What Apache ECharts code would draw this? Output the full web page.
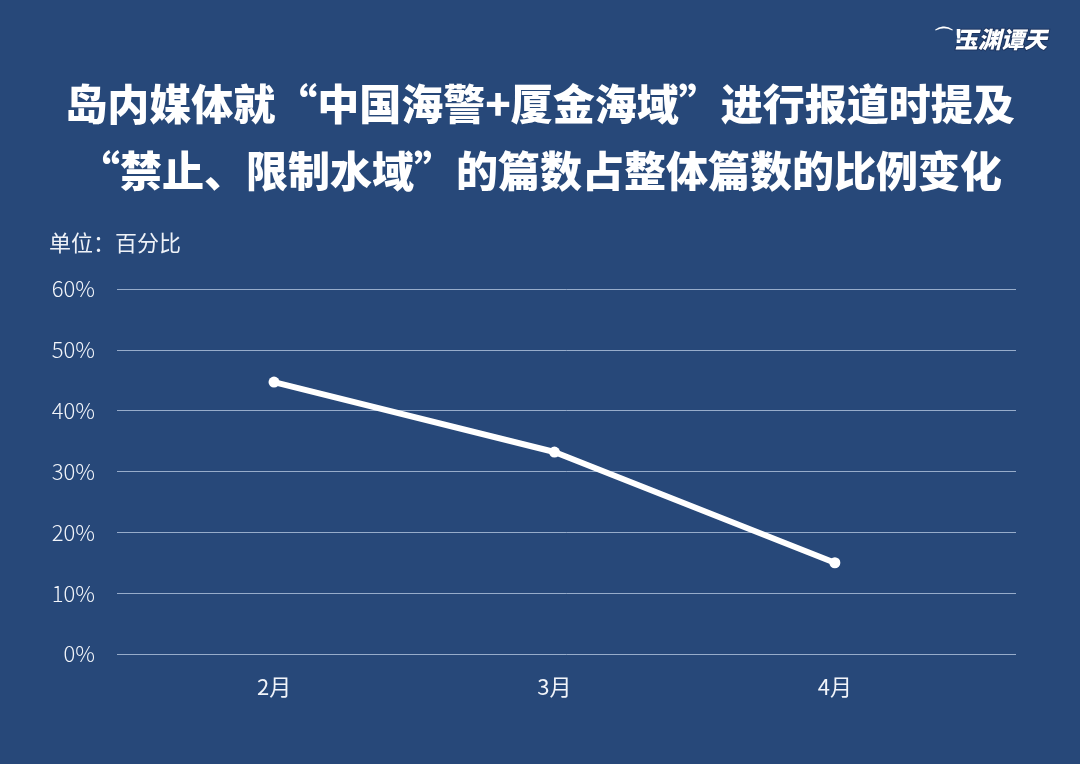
<!DOCTYPE html>
<html>
<head>
<meta charset="utf-8">
<script src="https://cdn.jsdelivr.net/npm/echarts@6/dist/echarts.min.js"></script>
<style>
html,body{margin:0;padding:0;background:#274879;}
#c{width:1080px;height:764px;}
</style>
</head>
<body>
<div id="c"></div>
<script>
var titleLines = ['岛内媒体就“中国海警+厦金海域”进行报道时提及', '“禁止、限制水域”的篇数占整体篇数的比例变化'];
var unitLabel = '单位：百分比';
var logoText = '玉渊谭天';
var categories = ['2月', '3月', '4月'];
var values = [44.7, 33.2, 15.0];
var yTicks = { min: 0, max: 60, interval: 10 };

var chart = echarts.init(document.getElementById('c'), null, { renderer: 'canvas' });
var seriesData = values.map(function (v, i) { return [i, v]; });

chart.setOption({
  backgroundColor: '#274879',
  animation: false,
  grid: { left: 117, right: 64, top: 289, bottom: 110 },
  graphic: [
    {
      type: 'text', left: 'center', top: 83,
      style: { text: titleLines[0], fill: '#ffffff', font: '900 42px "Noto Sans CJK SC"' }
    },
    {
      type: 'text', left: 'center', top: 150,
      style: { text: titleLines[1], fill: '#ffffff', font: '900 42px "Noto Sans CJK SC"' }
    },
    {
      type: 'text', left: 49, top: 232,
      style: { text: unitLabel, fill: '#eef2f8', font: '22px "Noto Sans CJK SC"' }
    },
    {
      type: 'text', left: 954, top: 27,
      style: { text: logoText, fill: '#ffffff', stroke: '#1d3560', lineWidth: 2, font: 'italic 900 23px "Noto Sans CJK SC"' }
    },
    {
      type: 'text', left: 934, top: 28,
      style: { text: '⌒!', fill: '#ffffff', font: 'bold 20px "DejaVu Sans"' }
    }
  ],
  xAxis: {
    type: 'value',
    min: -0.56,
    max: 2.646,
    axisLine: { show: false },
    axisTick: { show: false },
    splitLine: { show: false },
    axisLabel: {
      customValues: [0, 1, 2],
      color: '#f2f5fa',
      fontSize: 22,
      fontFamily: '"Noto Sans CJK SC"',
      margin: 22,
      formatter: function (v) { return categories[Math.round(v)] || ''; }
    }
  },
  yAxis: {
    type: 'value',
    min: yTicks.min,
    max: yTicks.max,
    interval: yTicks.interval,
    axisLine: { show: false },
    axisTick: { show: false },
    axisLabel: {
      color: '#f2f5fa',
      fontSize: 22,
      fontWeight: 300,
      fontFamily: '"Noto Sans CJK SC"',
      margin: 22,
      formatter: '{value}%'
    },
    splitLine: { lineStyle: { color: 'rgba(190,205,230,0.75)', width: 1 } }
  },
  series: [{
    type: 'line',
    data: seriesData,
    symbol: 'circle',
    symbolSize: 11,
    lineStyle: { color: '#ffffff', width: 6 },
    itemStyle: { color: '#ffffff' }
  }]
});
</script>
</body>
</html>
